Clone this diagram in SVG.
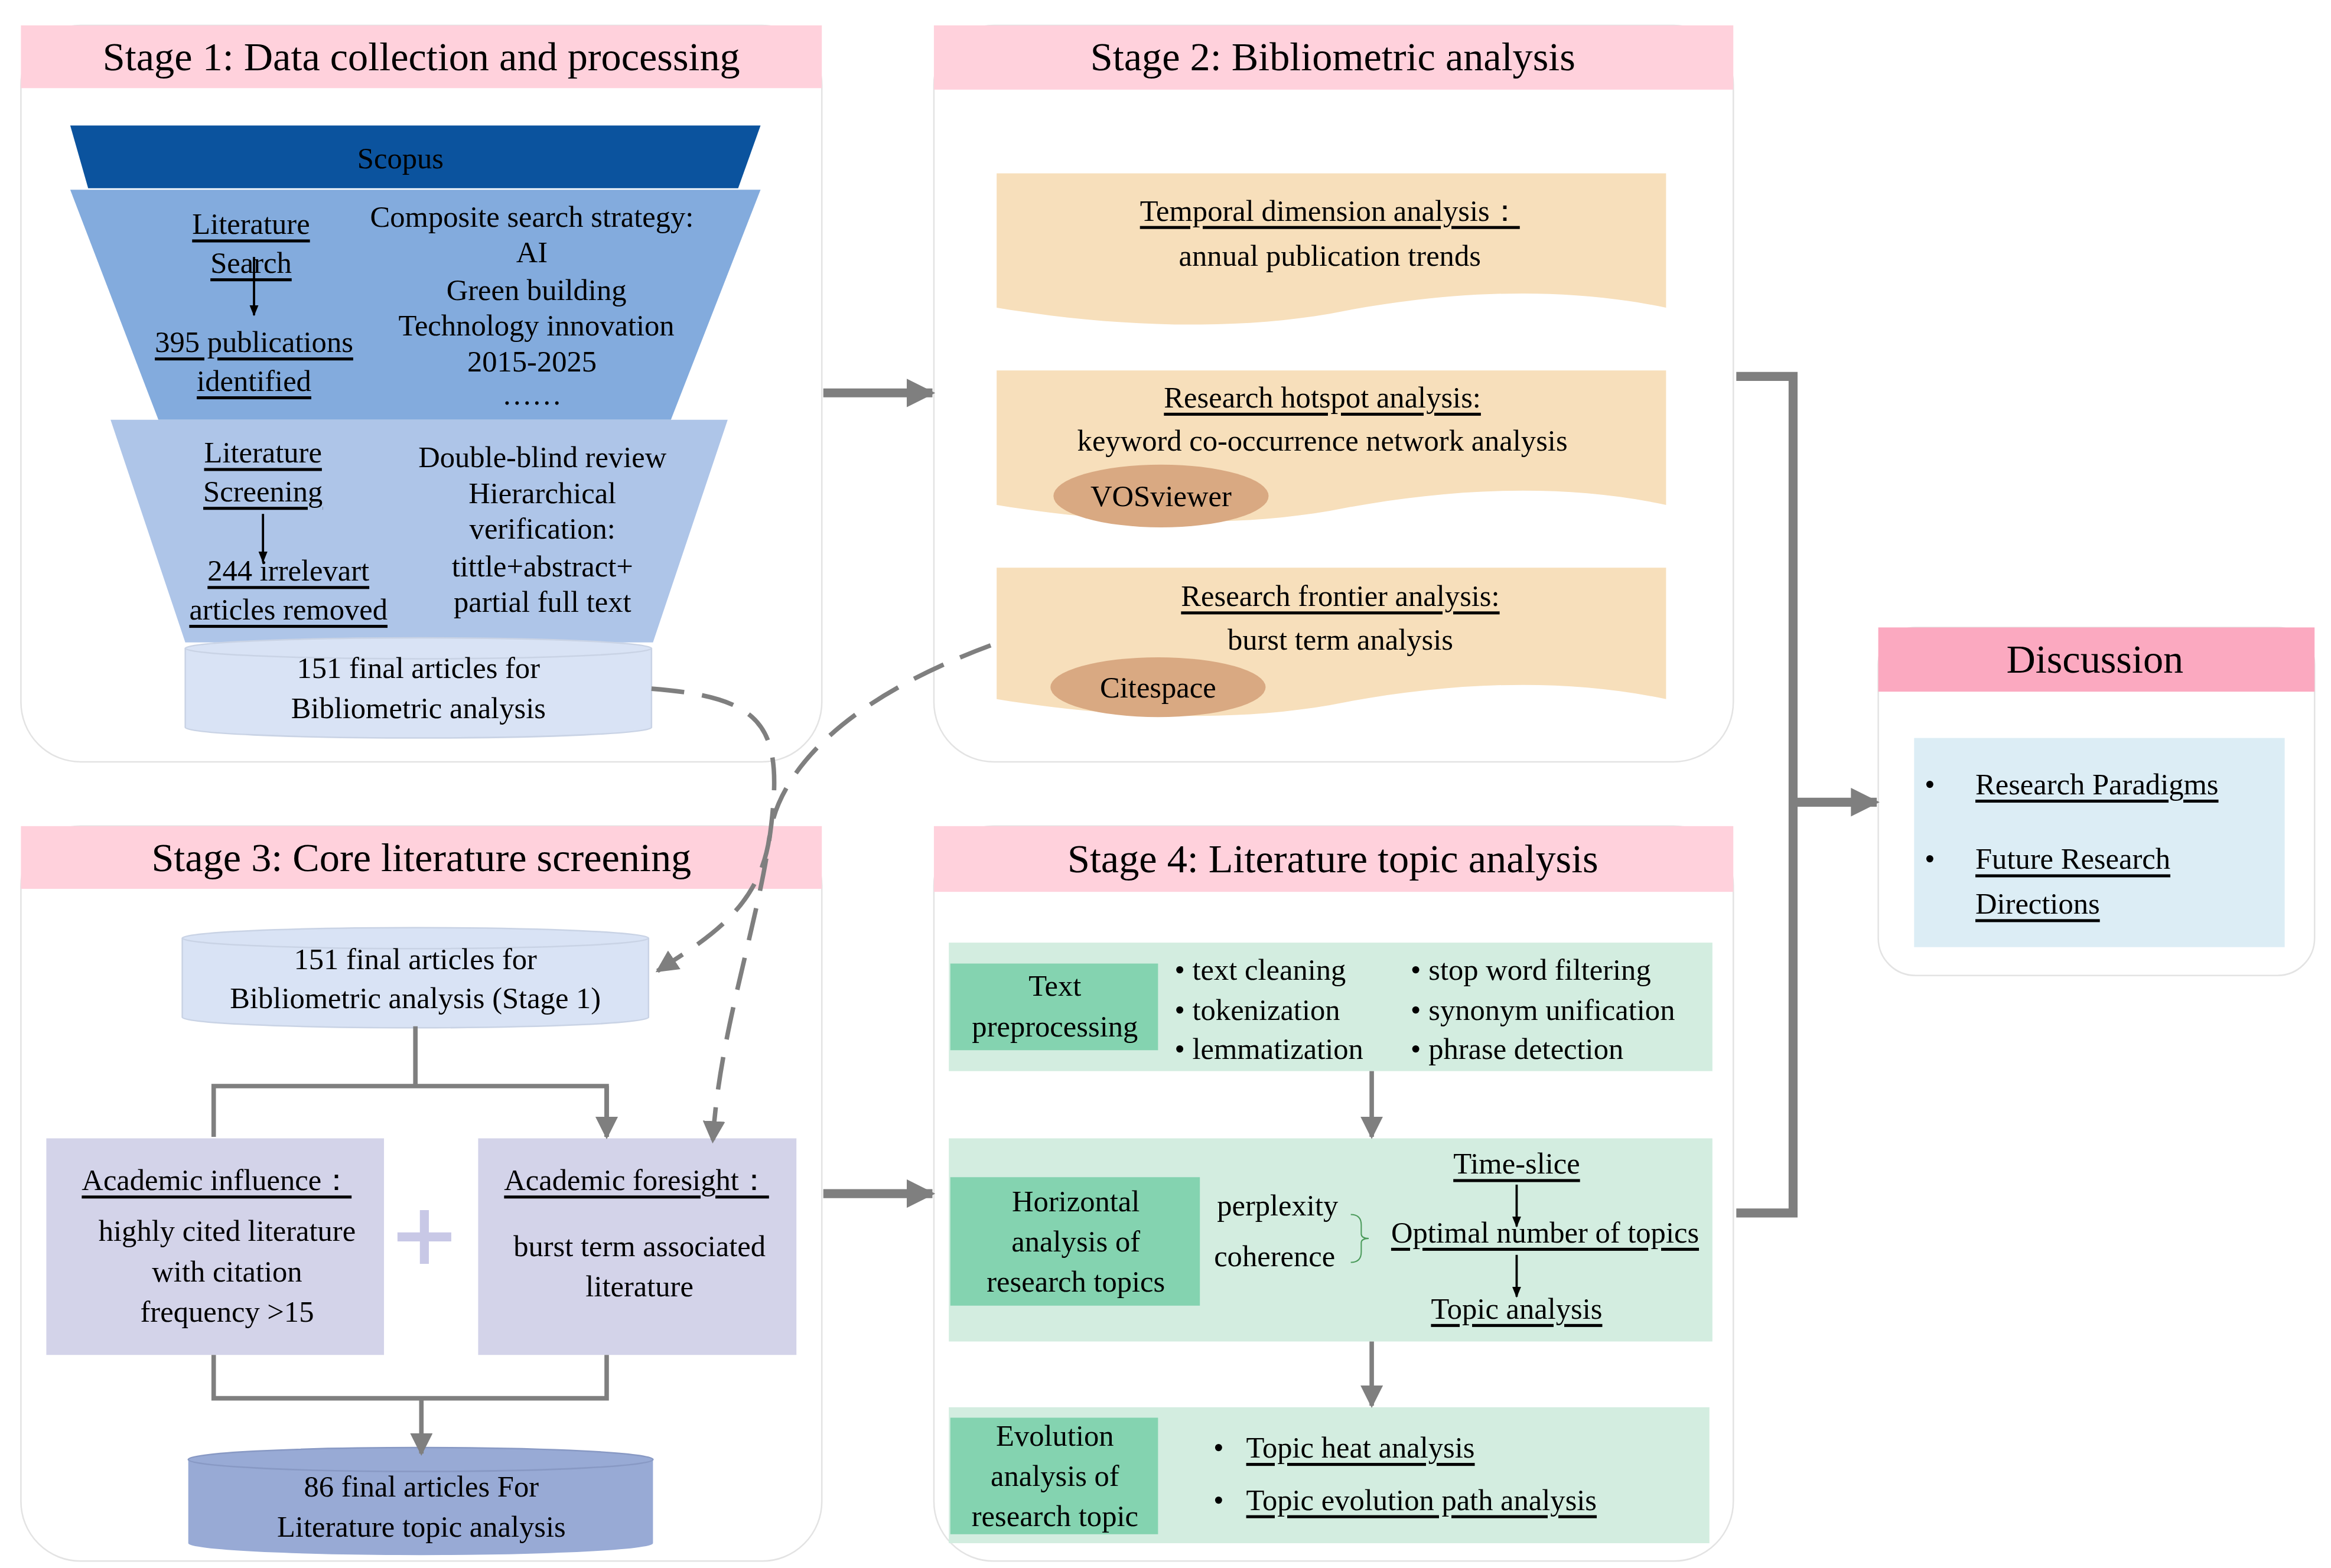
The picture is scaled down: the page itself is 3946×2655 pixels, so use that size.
<svg xmlns="http://www.w3.org/2000/svg" width="3946" height="2655" viewBox="0 0 3946 2655">
<defs>
<style>
text{font-family:"Liberation Serif","Times New Roman",serif;font-size:20px;fill:#000;dominant-baseline:central}
.c{text-anchor:middle}
.u{text-decoration:underline}
.t{font-size:27px}
.panel{fill:#fff;stroke:#e3e3e3;stroke-width:1}
.hdr{fill:#ffd1dc}
.g{stroke:#7f7f7f;fill:none}
</style>
<marker id="ag" viewBox="0 0 10 10" refX="9" refY="5" markerWidth="3.2" markerHeight="3.2" orient="auto"><path d="M0,0L10,5L0,10z" fill="#7f7f7f"/></marker>
<marker id="ab" viewBox="0 0 10 10" refX="9" refY="5" markerWidth="5" markerHeight="6" orient="auto"><path d="M0,1L10,5L0,9z" fill="#000"/></marker>
<marker id="ad" viewBox="0 0 10 10" refX="9" refY="5" markerWidth="5" markerHeight="5" orient="auto"><path d="M0,0L10,5L0,10z" fill="#7f7f7f"/></marker>
</defs>
<rect width="3946" height="2655" fill="#fff"/>
<g transform="scale(2.5295)">
<g id="stage1">
<rect class="panel" x="14" y="17" width="536" height="493" rx="40"/>
<rect class="hdr" x="14" y="17" width="536" height="42"/>
<text class="c t" x="282" y="38">Stage 1: Data collection and processing</text>
<path d="M47,84H509L494,126H59z" fill="#0b539e"/>
<text class="c" x="268" y="106">Scopus</text>
<path d="M47,127H509L449,281H106z" fill="#83abdd"/>
<text class="c u" x="168" y="150">Literature</text>
<text class="c u" x="168" y="176">Search</text>
<line x1="170" y1="172" x2="170" y2="211" stroke="#000" stroke-width="1.5" marker-end="url(#ab)"/>
<text class="c u" x="170" y="229">395 publications</text>
<text class="c u" x="170" y="255">identified</text>
<text class="c" x="356" y="145">Composite search strategy:</text>
<text class="c" x="356" y="169">AI</text>
<text class="c" x="359" y="194">Green building</text>
<text class="c" x="359" y="218">Technology innovation</text>
<text class="c" x="356" y="242">2015-2025</text>
<text class="c" x="356" y="264">……</text>
<path d="M74,281H487L437,430H124z" fill="#aec5e8"/>
<text class="c u" x="176" y="303">Literature</text>
<text class="c u" x="176" y="329">Screening</text>
<line x1="176" y1="344" x2="176" y2="376" stroke="#000" stroke-width="1.5" marker-end="url(#ab)"/>
<text class="c u" x="193" y="382">244 irrelevart</text>
<text class="c u" x="193" y="408">articles removed</text>
<text class="c" x="363" y="306">Double-blind review</text>
<text class="c" x="363" y="330">Hierarchical</text>
<text class="c" x="363" y="354">verification:</text>
<text class="c" x="363" y="379">tittle+abstract+</text>
<text class="c" x="363" y="403">partial full text</text>
<path d="M124,434V487A156,7 0 0 0 436,487V434" fill="#d9e3f5" stroke="#c9d3e5"/>
<ellipse cx="280" cy="434" rx="156" ry="7" fill="#d9e3f5" stroke="#c9d3e5"/>
<text class="c" x="280" y="447">151 final articles for</text>
<text class="c" x="280" y="474">Bibliometric analysis</text>
</g>
<g id="stage2">
<rect class="panel" x="625" y="17" width="535" height="493" rx="40"/>
<rect class="hdr" x="625" y="17" width="535" height="43"/>
<text class="c t" x="892" y="38">Stage 2: Bibliometric analysis</text>
<path d="M667,116H1115V206C1040,190 960,196 890,210C820,222 740,218 667,206z" fill="#f7dfbb"/>
<text class="c u" x="890" y="141">Temporal dimension analysis：</text>
<text class="c" x="890" y="171">annual publication trends</text>
<path d="M667,248H1115V338C1040,322 960,328 890,342C820,354 740,350 667,338z" fill="#f7dfbb"/>
<text class="c u" x="885" y="266">Research hotspot analysis:</text>
<text class="c" x="885" y="295">keyword co-occurrence network analysis</text>
<ellipse cx="777" cy="332" rx="72" ry="21" fill="#d9a982"/>
<text class="c" x="777" y="332">VOSviewer</text>
<path d="M667,380H1115V468C1040,452 960,458 890,472C820,484 740,480 667,468z" fill="#f7dfbb"/>
<text class="c u" x="897" y="399">Research frontier analysis:</text>
<text class="c" x="897" y="428">burst term analysis</text>
<ellipse cx="775" cy="460" rx="72" ry="20" fill="#d9a982"/>
<text class="c" x="775" y="460">Citespace</text>
</g>
<g id="stage3">
<rect class="panel" x="14" y="553" width="536" height="492" rx="40"/>
<rect class="hdr" x="14" y="553" width="536" height="42"/>
<text class="c t" x="282" y="574">Stage 3: Core literature screening</text>
<path d="M122,628V681A156,7 0 0 0 434,681V628" fill="#d9e3f5" stroke="#c9d3e5"/>
<ellipse cx="278" cy="628" rx="156" ry="7" fill="#d9e3f5" stroke="#c9d3e5"/>
<text class="c" x="278" y="642">151 final articles for</text>
<text class="c" x="278" y="668">Bibliometric analysis (Stage 1)</text>
<rect x="31" y="762" width="226" height="145" fill="#d3d3e9"/>
<text class="c u" x="145" y="790">Academic influence：</text>
<text class="c" x="152" y="824">highly cited literature</text>
<text class="c" x="152" y="851">with citation</text>
<text class="c" x="152" y="878">frequency &gt;15</text>
<path d="M284,810V846M266,828H302" stroke="#c8c8e6" stroke-width="6"/>
<rect x="320" y="762" width="213" height="145" fill="#d3d3e9"/>
<text class="c u" x="426" y="790">Academic foresight：</text>
<text class="c" x="428" y="834">burst term associated</text>
<text class="c" x="428" y="861">literature</text>
<path d="M126,977V1033A155.5,8 0 0 0 437,1033V977" fill="#98aad5"/>
<ellipse cx="281.5" cy="977" rx="155.5" ry="8" fill="#98aad5" stroke="#8899c4"/>
<text class="c" x="282" y="995">86 final articles For</text>
<text class="c" x="282" y="1022">Literature topic analysis</text>
</g>
<g id="stage4">
<rect class="panel" x="625" y="553" width="535" height="492" rx="40"/>
<rect class="hdr" x="625" y="553" width="535" height="44"/>
<text class="c t" x="892" y="575">Stage 4: Literature topic analysis</text>
<rect x="635" y="631" width="511" height="86" fill="#d3ede0"/>
<rect x="636" y="645" width="139" height="58" fill="#84d3b0"/>
<text class="c" x="706" y="660">Text</text>
<text class="c" x="706" y="687">preprocessing</text>
<text x="786" y="649">•  text cleaning</text>
<text x="786" y="676">•  tokenization</text>
<text x="786" y="702">•  lemmatization</text>
<text x="944" y="649">•  stop word filtering</text>
<text x="944" y="676">•  synonym unification</text>
<text x="944" y="702">•  phrase detection</text>
<rect x="635" y="762" width="511" height="136" fill="#d3ede0"/>
<rect x="636" y="788" width="167" height="86" fill="#84d3b0"/>
<text class="c" x="720" y="804">Horizontal</text>
<text class="c" x="720" y="831">analysis of</text>
<text class="c" x="720" y="858">research topics</text>
<text class="c" x="855" y="807">perplexity</text>
<text class="c" x="853" y="841">coherence</text>
<path d="M904,813Q911,813 911,820V826Q911,829 916,829Q911,829 911,832V838Q911,845 904,845" fill="none" stroke="#4a9a5a" stroke-width="0.8"/>
<text class="c u" x="1015" y="779">Time-slice</text>
<line x1="1015" y1="793" x2="1015" y2="821" stroke="#000" stroke-width="1.5" marker-end="url(#ab)"/>
<text class="c u" x="1034" y="825">Optimal number of topics</text>
<line x1="1015" y1="840" x2="1015" y2="868" stroke="#000" stroke-width="1.5" marker-end="url(#ab)"/>
<text class="c u" x="1015" y="876">Topic analysis</text>
<rect x="635" y="942" width="509" height="91" fill="#d3ede0"/>
<rect x="636" y="949" width="139" height="78" fill="#84d3b0"/>
<text class="c" x="706" y="961">Evolution</text>
<text class="c" x="706" y="988">analysis of</text>
<text class="c" x="706" y="1015">research topic</text>
<text x="812" y="969">•</text>
<text class="u" x="834" y="969">Topic heat analysis</text>
<text x="812" y="1004">•</text>
<text class="u" x="834" y="1004">Topic evolution path analysis</text>
</g>
<g id="discussion">
<rect class="panel" x="1257" y="420" width="292" height="233" rx="25"/>
<rect x="1257" y="420" width="292" height="43" fill="#fba9c0"/>
<text class="c" x="1402" y="441" style="font-size:27px">Discussion</text>
<rect x="1281" y="494" width="248" height="140" fill="#dcedf5"/>
<text x="1288" y="525">•</text>
<text class="u" x="1322" y="525">Research Paradigms</text>
<text x="1288" y="575">•</text>
<text class="u" x="1322" y="575">Future Research</text>
<text class="u" x="1322" y="605">Directions</text>
</g>
<g id="connectors">
<line class="g" x1="551" y1="263" x2="624" y2="263" stroke-width="6" marker-end="url(#ag)"/>
<line class="g" x1="551" y1="799" x2="624" y2="799" stroke-width="6" marker-end="url(#ag)"/>
<path class="g" d="M1162,252H1200V812H1162" stroke-width="6"/>
<line class="g" x1="1200" y1="537" x2="1256" y2="537" stroke-width="6" marker-end="url(#ag)"/>
<path class="g" d="M436,461C500,466 520,480 518,530C515,600 482,680 477,764" stroke-width="3" stroke-dasharray="22,12" marker-end="url(#ad)"/>
<path class="g" d="M663,432C560,470 520,520 515,560C508,610 470,630 440,650" stroke-width="3" stroke-dasharray="22,12" marker-end="url(#ad)"/>
<path class="g" d="M278,687V727H143V761M278,727H406V761" stroke-width="3" marker-end="url(#ad)"/>
<path class="g" d="M406,727V761" stroke-width="3" marker-end="url(#ad)"/>
<path class="g" d="M143,907V936H406V907" stroke-width="3"/>
<line class="g" x1="282" y1="936" x2="282" y2="973" stroke-width="3" marker-end="url(#ad)"/>
<line class="g" x1="918" y1="717" x2="918" y2="761" stroke-width="3" marker-end="url(#ad)"/>
<line class="g" x1="918" y1="898" x2="918" y2="941" stroke-width="3" marker-end="url(#ad)"/>
</g>
</g>
</svg>
